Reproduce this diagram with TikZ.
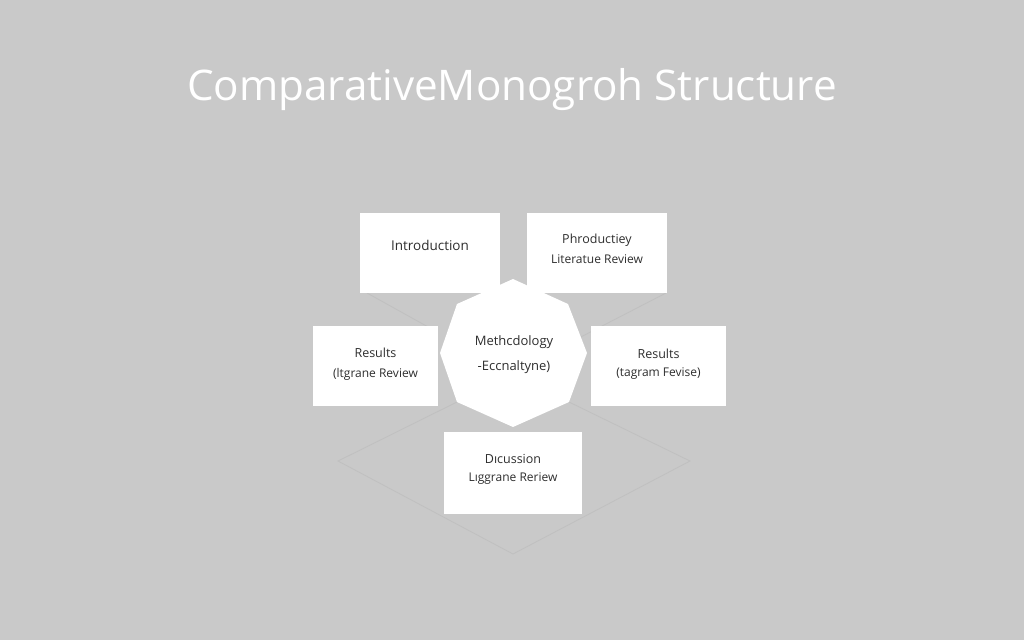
\documentclass[tikz,border=0pt]{standalone}
\usepackage{fontspec}
\setmainfont{Open Sans}
\definecolor{bgc}{HTML}{C9C9C9}
\definecolor{linec}{HTML}{C0C0C0}
\definecolor{txt}{HTML}{2E2E2E}
\newcommand{\subline}{\fontsize{12}{14}\selectfont}
\tikzset{
  box/.style={fill=white,draw=none,inner sep=0pt,text=txt,align=center,font=\fontsize{12.5}{19}\selectfont},
  faint/.style={draw=linec,line width=0.8pt},
  labelt/.style={text=txt,align=center,inner sep=0pt,font=\fontsize{13}{25}\selectfont}
}
\begin{document}
\begin{tikzpicture}[x=1pt,y=-1pt]
\useasboundingbox[fill=bgc] (0,0) rectangle (1024,640);
\node[text=white,inner sep=0pt,font=\fontsize{42.2}{50}\selectfont] (title) at (512,90) {ComparativeMonogroh Structure};
% faint connectors and diamond
\coordinate (dl) at (338,461);
\coordinate (db) at (513,554);
\coordinate (dr) at (690,461);
\coordinate (ol) at (457,402);
\coordinate (or) at (569,402);
\coordinate (il) at (367,293);
\coordinate (ie) at (430,328);
\coordinate (pr) at (666,293);
\coordinate (pe) at (575,340);
\draw[faint] (ol) -- (dl) -- (db) -- (dr) -- (or);
\draw[faint] (il) -- (ie);
\draw[faint] (pr) -- (pe);
% boxes
\node[box,minimum width=140pt,minimum height=80pt] (intro) at (430,253) {\raisebox{16pt}{\fontsize{13.5}{16}\selectfont Introduction}};
\node[box,minimum width=140pt,minimum height=80pt] (prod) at (597,253) {\raisebox{8.5pt}{\shortstack{Phroductiey\\[5pt]{\subline Literatue Review}}}};
\node[box,minimum width=125pt,minimum height=80pt] (resl) at (375.5,366) {\raisebox{6.5pt}{\shortstack{Results\\[7pt]{\subline (ltgrane Review}}}};
\node[box,minimum width=135pt,minimum height=80pt] (resr) at (658.5,366) {\raisebox{6.5pt}{\shortstack{Results\\[7pt]{\subline (tagram Fevise)}}}};
\node[box,minimum width=138pt,minimum height=82pt] (disc) at (513,473) {\raisebox{10pt}{\shortstack{Dıcussion\\[6pt]{\subline Lıggrane Reriew}}}};
% octagon
\fill[white] (513,279) -- (568,304) -- (587,353) -- (569,402) -- (513,427) -- (457,402) -- (440,353) -- (457,304) -- cycle;
\node[labelt] (meth) at (514,355) {Methcdology\\-Eccnaltyne)};
\end{tikzpicture}
\end{document}
